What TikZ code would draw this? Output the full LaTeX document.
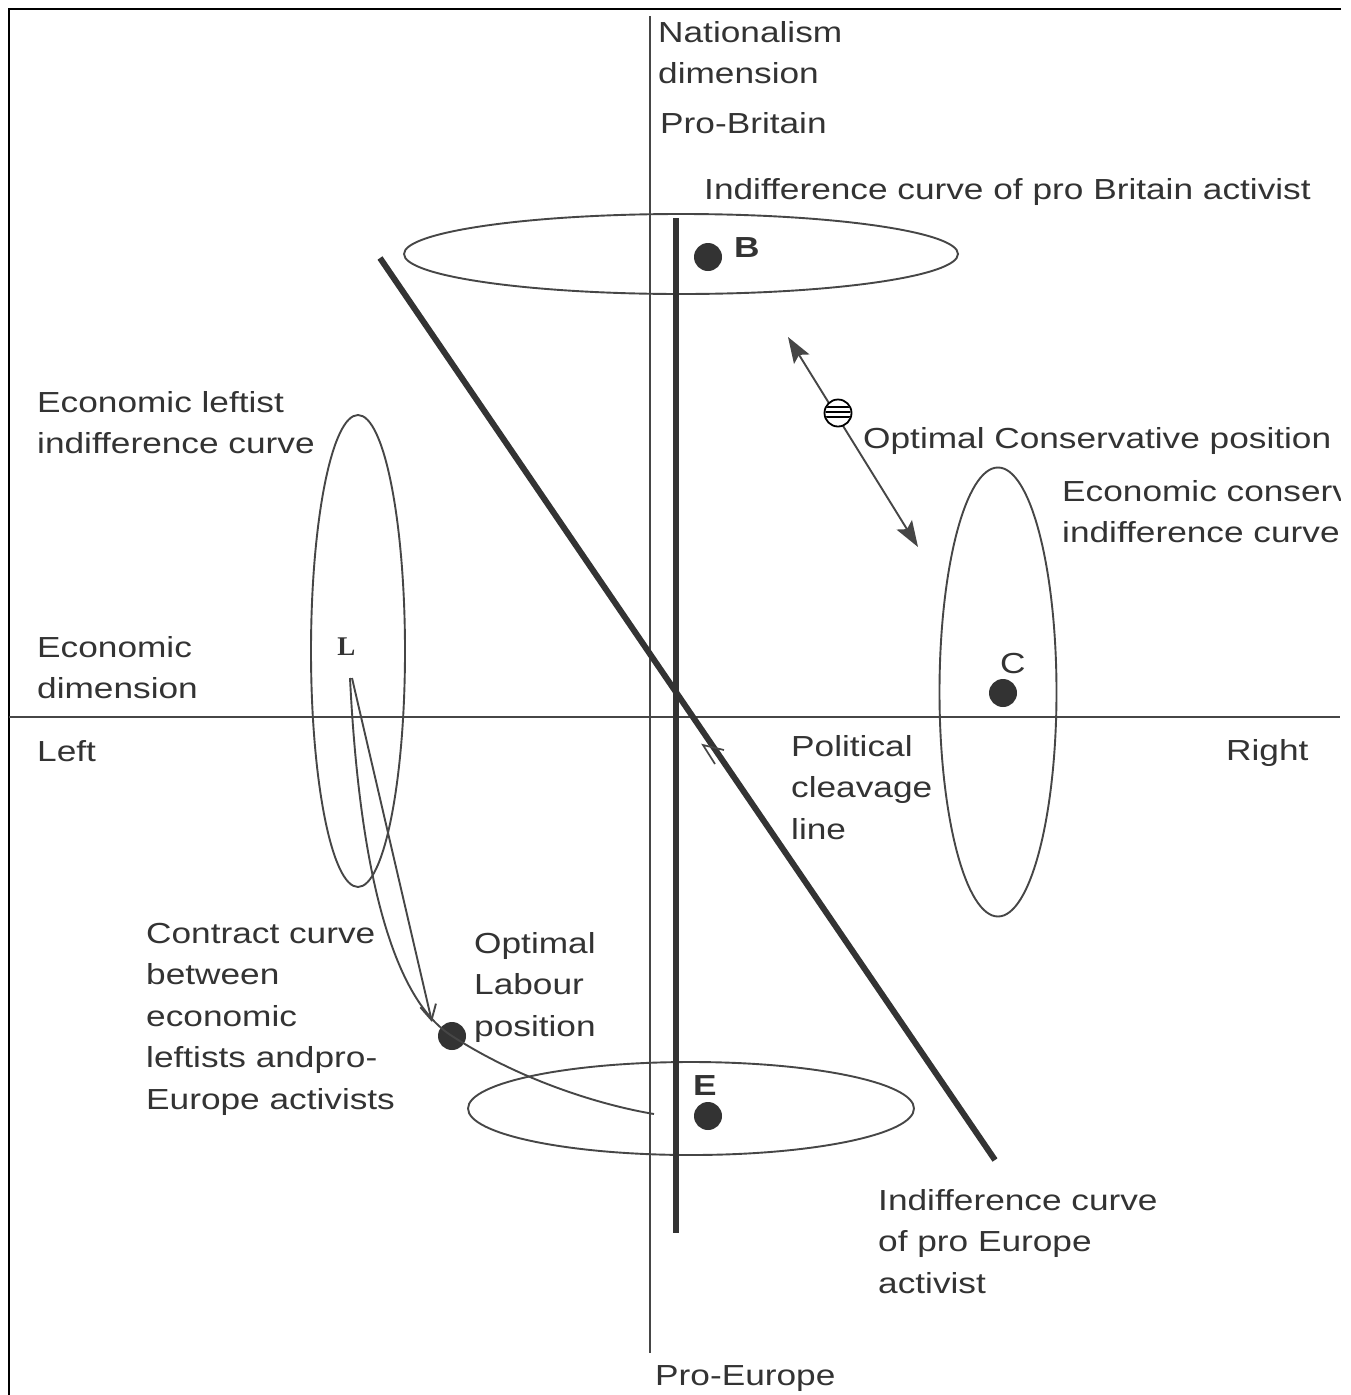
\documentclass[tikz,border=0pt]{standalone}
\usepackage{fontspec}
\setmainfont[FakeStretch=1.215]{Liberation Sans}
\newfontfamily\serifL{Liberation Serif}
\usetikzlibrary{arrows.meta}
\definecolor{ink}{HTML}{333333}
\definecolor{linec}{HTML}{464646}
\newcommand{\ml}[1]{\begin{tabular}[t]{@{}l@{}}#1\end{tabular}}
\begin{document}
\begin{tikzpicture}[x=1pt,y=-1pt,
  lbl/.style={anchor=base west, inner sep=0pt, text=ink, font=\fontsize{29}{41.6}\selectfont},
  thinline/.style={draw=linec, line width=1.9pt},
  thickline/.style={draw=ink, line width=6pt},
  dot/.style={circle, fill=ink, inner sep=0pt, minimum size=28pt},
  ell/.style={draw=linec, line width=1.9pt},
]
\useasboundingbox[fill=white] (0,0) rectangle (1350,1395);
% frame
\draw[black, line width=2.8pt] (1341,9) -- (9,9) -- (9,1395);
% axes
\coordinate (vtop) at (650,16);
\coordinate (vbot) at (650,1353);
\coordinate (hleft) at (9,717);
\coordinate (hright) at (1340,717);
\draw[thinline] (vtop) -- (vbot);
\draw[thinline] (hleft) -- (hright);
% indifference ellipses
\draw[ell] (681,254) ellipse [x radius=277, y radius=40];
\draw[ell] (358,651) ellipse [x radius=47, y radius=236];
\draw[ell] (998,692) ellipse [x radius=58.5, y radius=224.5];
\draw[ell] (691,1108.5) ellipse [x radius=223, y radius=46.5];
% thick lines
\coordinate (tvtop) at (676,218);
\coordinate (tvbot) at (676,1233);
\coordinate (dgtop) at (380,258);
\coordinate (dgbot) at (995,1160);
\draw[thickline] (tvtop) -- (tvbot);
\draw[thickline] (dgtop) -- (dgbot);
% small arrowhead on cleavage line
\coordinate (ptip) at (703,745);
\coordinate (pb1) at (724,750);
\coordinate (pb2) at (715,764);
\draw[linec, line width=1.7pt] (pb1) -- (ptip) -- (pb2);
% dots
\node[dot] (dB) at (708,257) {};
\node[dot] (dC) at (1003,693) {};
\node[dot] (dE) at (708,1116) {};
\node[dot] (dLab) at (452,1036) {};
% contract curve and arrow from L
\coordinate (Lc) at (350,678);
\coordinate (Lc2) at (352,678);
\coordinate (atip) at (432,1022);
\coordinate (cend) at (654,1114);
\draw[thinline] (Lc) .. controls (360,880) and (395,1000) .. (dLab.center)
  .. controls (520,1080) and (600,1105) .. (cend);
\draw[thinline, -{Straight Barb[length=15pt,width=16pt]}] (Lc2) -- (atip);
% optimal conservative arrow
\coordinate (ca) at (788,337);
\coordinate (cb) at (918,547);
\draw[thinline, {Stealth[length=26pt,width=18pt,inset=5pt]}-{Stealth[length=26pt,width=18pt,inset=5pt]}] (ca) -- (cb);
\node[circle, draw=black, fill=white, line width=1.8pt, minimum size=27pt, inner sep=0pt] (copt) at (838,413) {};
\begin{scope}
\clip (838,413) circle (12.5);
\draw[black, line width=1.3pt] (824,407) -- (852,407);
\draw[black, line width=1.3pt] (824,412) -- (852,412);
\draw[black, line width=1.3pt] (824,417) -- (852,417);
\end{scope}
% labels
\node[lbl] (nat) at (658,42) {\ml{Nationalism\\dimension}};
\node[lbl] (probr) at (660,133) {Pro-Britain};
\node[lbl] (icb) at (704,199) {Indifference curve of pro Britain activist};
\node[lbl] (elic) at (37,412) {\ml{Economic leftist\\indifference curve}};
\node[lbl] (optc) at (863,448) {Optimal Conservative position};
\begin{scope}
\clip (0,0) rectangle (1340,1395);
\node[lbl] (ecic) at (1062,501) {\ml{Economic conservative\\indifference curve}};
\end{scope}
\node[lbl] (ecd) at (37,657) {\ml{Economic\\dimension}};
\node[lbl] (left) at (37,761) {Left};
\node[lbl] (right) at (1226,760) {Right};
\node[lbl] (pcl) at (791,756) {\ml{Political\\cleavage\\line}};
\node[lbl] (cc) at (146,943) {\ml{Contract curve\\between\\economic\\leftists andpro-\\Europe activists}};
\node[lbl] (olp) at (474,953) {\ml{Optimal\\Labour\\position}};
\node[lbl] (ice) at (878,1210) {\ml{Indifference curve\\of pro Europe\\activist}};
\node[lbl] (proeu) at (655,1385) {Pro-Europe};
\node[lbl, font=\fontsize{29}{41.6}\selectfont\bfseries] (lB) at (734,257) {B};
\node[lbl] (lC) at (1000,673) {C};
\node[lbl, font=\fontsize{29}{41.6}\selectfont\bfseries] (lE) at (693,1095) {E};
\node[inner sep=0pt, text=ink, font=\serifL\fontsize{27}{30}\selectfont\bfseries] (lL) at (346.5,646.5) {L};
\end{tikzpicture}
\end{document}
